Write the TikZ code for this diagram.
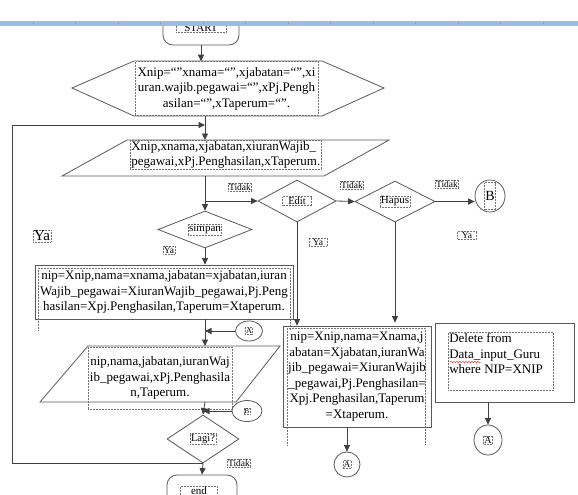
\documentclass[tikz,border=0pt]{standalone}
\usepackage{fontspec}
\setmainfont{Liberation Serif}
\usetikzlibrary{arrows.meta,shapes.geometric,decorations.pathmorphing}

\definecolor{penggaris}{RGB}{155,187,227}

\tikzset{
	garis/.style={draw=black!75, line width=0.8pt},
	panah/.style={garis, -{Triangle[length=6.5pt,width=6pt]}},
	bentuk/.style={draw=black!65, line width=0.8pt},
	titik/.style={draw=black!55, densely dotted, line width=0.5pt},
	teks/.style={font=\fontsize{13}{15.6}\selectfont, inner sep=1pt},
	kecil/.style={titik, font=\fontsize{9.5}{11}\selectfont, inner sep=0.8pt},
	keputusan/.style={bentuk, diamond, inner sep=0pt},
	konektor/.style={bentuk, ellipse, inner sep=0pt},
}

\begin{document}
\begin{tikzpicture}[x=1pt,y=-1pt]
	\useasboundingbox (0,0) rectangle (578,495);
	
	% terminal
	\node[bentuk, rounded corners=10pt, minimum width=76pt, minimum height=40pt] (start) at (201,25) {};
	\node[kecil, font=\fontsize{11}{12}\selectfont, minimum width=50pt] (startteks) at (201,28) {START};
	\node[bentuk, rounded corners=10pt, minimum width=70pt, minimum height=40pt] (selesai) at (202,495) {};
	\node[kecil, font=\fontsize{11}{12}\selectfont, minimum width=37pt] (selesaiteks) at (199,491) {end};
	
	% inisialisasi
	\draw[bentuk] (72,88) -- (134,61) -- (322,61) -- (384,88) -- (322,116) -- (134,116) -- cycle;
	\node[titik, teks, align=center, minimum width=183pt, minimum height=54pt] (awal) at (226.5,88.5)
		{Xnip=“”xnama=“”,xjabatan=“”,xi\\uran.wajib.pegawai=“”,xPj.Pengh\\asilan=“”,xTaperum=“”.};
	
	% input data
	\draw[bentuk] (127,140) -- (389,140) -- (324,176) -- (62,176) -- cycle;
	\node[titik, teks, align=left, anchor=north west, minimum width=189pt] (masuk) at (130,140)
		{Xnip,xnama,xjabatan,xiuranWajib\_\\pegawai,xPj.Penghasilan,xTaperum.};
	
	% keputusan
	\node[keputusan, minimum width=94pt, minimum height=37pt] (simpan) at (205,229.5) {};
	\node[kecil, font=\fontsize{11}{12}\selectfont] at (simpan) {simpan};
	\node[keputusan, minimum width=78pt, minimum height=42pt] (edit) at (297,201) {};
	\node[kecil, font=\fontsize{10.5}{12}\selectfont, minimum width=29pt] at (edit) {Edit};
	\node[keputusan, minimum width=80pt, minimum height=41pt] (hapus) at (395,201.5) {};
	\node[kecil, font=\fontsize{11}{12}\selectfont] at (hapus) {Hapus};
	\node[keputusan, minimum width=72pt, minimum height=48pt] (lagi) at (203,439) {};
	\node[kecil, font=\fontsize{10.5}{12}\selectfont] at (lagi) {Lagi?};
	
	% proses
	\node[bentuk, teks, align=center, minimum width=258pt, minimum height=54pt] (proses1) at (164,292)
		{nip=Xnip,nama=xnama,jabatan=xjabatan,iuran\\Wajib\_pegawai=XiuranWajib\_pegawai,Pj.Peng\\hasilan=Xpj.Penghasilan,Taperum=Xtaperum.};
	\draw[titik] (38,330) -- (38,268) -- (290,268) -- (290,330);
	\node[bentuk, teks, align=center, minimum width=148pt, minimum height=101pt] (proses2) at (357,376.5)
		{nip=Xnip,nama=Xnama,j\\abatan=Xjabatan,iuranWa\\jib\_pegawai=XiuranWajib\\\_pegawai,Pj.Penghasilan=\\Xpj.Penghasilan,Taperum\\=Xtaperum.};
	\draw[titik] (287,445) -- (287,328) -- (425,328) -- (425,445);
	\node[bentuk, minimum width=139pt, minimum height=79pt] (proses3) at (504.5,362.5) {};
	\node[titik, teks, anchor=north west] (hapusteks) at (448,332)
		{\parbox[t][56pt][t]{103pt}{Delete from\\Data\_input\_Guru\\where NIP=XNIP}};
	\draw[red, decorate, decoration={snake, amplitude=0.6pt, segment length=3pt}] (450,362) -- (481,362);
	
	% output data
	\draw[bentuk] (88,346) -- (280,346) -- (236,402) -- (40,402) -- cycle;
	\node[titik, teks, align=center, minimum width=144pt, minimum height=62pt] (masuk2) at (160,378)
		{nip,nama,jabatan,iuranWaj\\ib\_pegawai,xPj.Penghasila\\n,Taperum.};
	
	% konektor
	\node[konektor, minimum width=27pt, minimum height=20pt] (A1) at (249,331) {};
	\node[kecil, font=\fontsize{8}{9}\selectfont] at (A1) {A};
	\node[konektor, minimum width=30pt, minimum height=21pt] (B2) at (247,411) {};
	\node[kecil, font=\fontsize{7}{8}\selectfont] at (B2) {B};
	\node[konektor, minimum width=30pt, minimum height=32pt] (B1) at (490,196) {};
	\node[kecil, font=\fontsize{14}{16}\selectfont, minimum height=27pt] at (B1) {B};
	\node[konektor, minimum width=26pt, minimum height=25pt] (A2) at (347,464.5) {};
	\node[kecil, font=\fontsize{9}{10}\selectfont] at (A2) {A};
	\node[konektor, minimum width=28pt, minimum height=30pt] (A3) at (488,440) {};
	\node[kecil, font=\fontsize{10}{11}\selectfont] at (A3) {A};
	
	% titik bantu
	\coordinate (awal-b) at (205,116);
	\coordinate (masuk-t) at (205,140);
	\coordinate (masuk-b) at (205,176);
	\coordinate (cabang) at (205,201);
	\coordinate (masuk2-t) at (205,346);
	\coordinate (masuk2-b) at (205,402);
	\coordinate (balik) at (12,125);
	
	% alur
	\draw[panah] (start.south) -- (start.south |- awal.north);
	\draw[panah] (awal-b) -- (masuk-t);
	\draw[garis] (masuk-b) -- (cabang);
	\draw[panah] (cabang) -- (simpan.north);
	\draw[panah] (cabang) -- (edit.west);
	\draw[panah] (edit.east) -- (hapus.west);
	\draw[panah] (hapus.east) -- (hapus.east -| B1.west);
	\draw[panah] (simpan.south) -- (simpan.south |- proses1.north);
	\draw[panah] (simpan.south |- proses1.south) -- (masuk2-t);
	\draw[panah] (A1.west) -- (A1.west -| simpan.south);
	\draw[panah] (edit.south) -- (edit.south |- proses2.north);
	\draw[panah] (hapus.south) -- (hapus.south |- proses3.north);
	\draw[panah] (proses2.south -| A2.north) -- (A2.north);
	\draw[panah] (proses3.south -| A3.north) -- (A3.north);
	\draw[panah] (masuk2-b) -- (lagi.north);
	\draw[panah] (B2.west) -- (B2.west -| lagi.north);
	\draw[panah] (lagi.south) -- (selesai.north);
	\draw[panah] (lagi.south) -| (balik) -- (balik -| awal-b);
	
	% label
	\node[kecil] (tidak1) at (240,187) {Tidak};
	\node[kecil] (tidak2) at (352,185) {Tidak};
	\node[kecil] (tidak3) at (447,184) {Tidak};
	\node[kecil] (tidak4) at (239,463) {Tidak};
	\node[kecil] (ya1) at (169,250) {Ya};
	\node[kecil, minimum width=18pt] (ya2) at (318,242) {Ya};
	\node[kecil, minimum width=19pt] (ya3) at (467,235) {Ya};
	\node[kecil, font=\fontsize{15}{17}\selectfont] (ya4) at (42,236) {Ya};
	
	% penggaris
	\fill[white] (0,0) rectangle (578,21);
	\fill[penggaris] (0,21) rectangle (578,26);
	\foreach \x in {33,75.5,...,550}
		\draw[black!40, line width=0.5pt] (\x,22.5) -- (\x,24.5);
	
\end{tikzpicture}
\end{document}
